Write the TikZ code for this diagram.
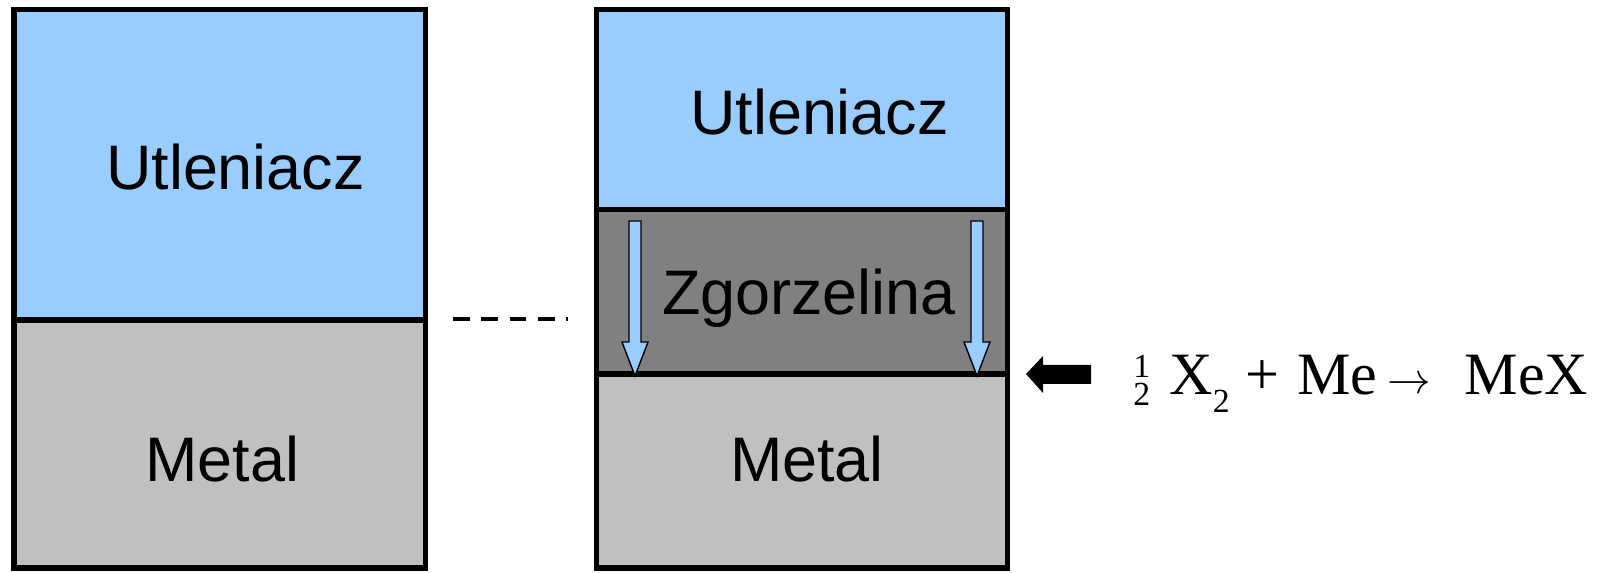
\documentclass[tikz,border=0pt]{standalone}
\usepackage{fontspec}
\setmainfont{Liberation Sans}
\newfontfamily\eqfont{Liberation Serif}

\definecolor{oxidant}{RGB}{153,204,255}
\definecolor{scalegray}{RGB}{128,128,128}
\definecolor{metalgray}{RGB}{192,192,192}

\newcommand{\eqsmall}{\fontsize{19.2}{20}\selectfont}
\newcommand{\halfstack}{\raisebox{-5.9pt}{\vbox{\eqsmall\baselineskip=16pt\hbox{1}\hbox{2}}}}

\tikzset{
  layer/.style={draw, line width=2.85pt},
  lbl/.style={anchor=base, inner sep=0pt, font=\fontsize{35.8}{43}\selectfont},
  flux/.style={draw, line width=0.8pt, fill=oxidant},
}

\begin{document}
\begin{tikzpicture}[x=0.02cm, y=-0.02cm]
\useasboundingbox (0,0) rectangle (1611,573);

% przed utlenianiem
\path[layer, fill=oxidant] (14,10) rectangle (425,320);
\path[layer, fill=metalgray] (14,320) rectangle (425,568);
\node[lbl] (utl1) at (235.5,190) {Utleniacz};
\node[lbl] (met1) at (222.5,481) {Metal};

% ciag dalszy
\coordinate (dashA) at (453,319);
\coordinate (dashB) at (568,319);
\draw[line width=2.3pt, dash pattern=on 9.6pt off 6.5pt] (dashA) -- (dashB);

% po utlenianiu
\path[layer, fill=oxidant] (596,10) rectangle (1007,210);
\path[layer, fill=scalegray] (596,210) rectangle (1007,374);
\path[layer, fill=metalgray] (596,374) rectangle (1007,568);
\node[lbl] (utl2) at (819.5,135) {Utleniacz};
\node[lbl] (zgo) at (809,315) {Zgorzelina};
\node[lbl] (met2) at (807,481) {Metal};

% dyfuzja utleniacza przez zgorzeline
\foreach \x in {635,977}
  \path[flux] (\x-6,221) -- (\x+6,221) -- (\x+6,342) -- (\x+13,342)
    -- (\x,376) -- (\x-13,342) -- (\x-6,342) -- cycle;

% reakcja na granicy
\coordinate (front) at (1026,374);
\fill (front) -- (1043,356) -- (1043,365) -- (1091,365) -- (1091,384)
  -- (1043,384) -- (1043,393) -- cycle;

\node[anchor=base west, inner sep=0pt] (eq) at (1133,395)
  {\eqfont\fontsize{34.2}{40}\selectfont
   \halfstack\hspace{11pt}X\raisebox{-9.7pt}{\eqsmall 2}\hspace{9pt}+\hspace{10pt}Me\hspace{6pt}\raisebox{0.8pt}{\fontsize{24}{24}\selectfont$\rightarrow$}\hspace{19pt}MeX};
\end{tikzpicture}
\end{document}
